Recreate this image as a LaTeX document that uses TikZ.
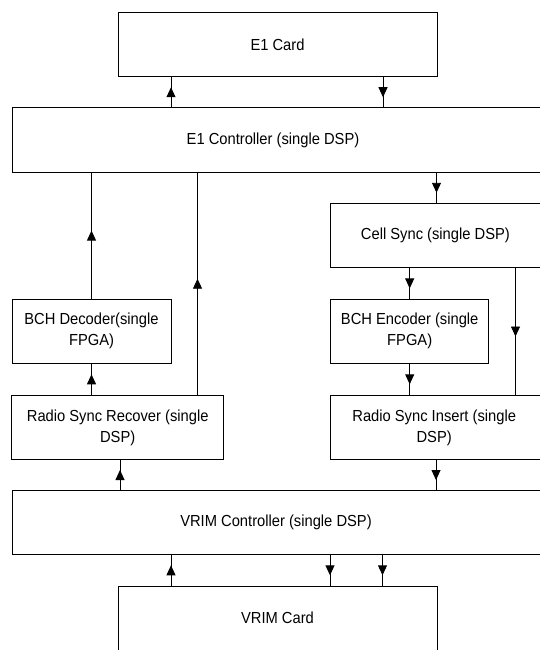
\documentclass[tikz,border=0pt]{standalone}
\usepackage{fontspec}
\setmainfont{Liberation Sans}[FakeStretch=0.92]
\usepackage{tikz}
\usetikzlibrary{arrows.meta,decorations.markings}

\newcommand\boxfont{\fontsize{16}{21}\selectfont}

\tikzset{
  block/.style={draw, line width=1pt, minimum height=64pt, inner sep=0pt,
    align=center, font=\boxfont},
  every label/.style={font=\boxfont, align=center, inner sep=0pt},
  flow/.style={line width=0.9pt, postaction={decorate},
    decoration={markings, mark=at position 0.5 with
      {\arrow[xshift=5pt]{Triangle[length=10pt,width=9pt]}}}}
}

\begin{document}
\begin{tikzpicture}[x=1pt,y=-1pt]
  \useasboundingbox (0,0) rectangle (540,650);
  \clip (0,0) rectangle (540,650);

  % cards and controllers
  \node[block, minimum width=319pt] (card1) at (277.5,44.5) {E1 Card};
  \node[block, minimum width=548pt,
        label={[xshift=-13pt]center:E1 Controller (single DSP)}] (ctrl1) at (286,140) {};
  \node[block, minimum width=548pt,
        label={[xshift=-10pt]center:VRIM Controller (single DSP)}] (ctrl2) at (286,522.6) {};
  \node[block, minimum width=319pt, minimum height=84pt,
        label={[yshift=10pt]center:VRIM Card}] (card2) at (277.5,628) {};

  % receive side
  \node[block, minimum width=159pt] (dec) at (91.5,331.2) {BCH Decoder(single\\FPGA)};
  \node[block, minimum width=211.5pt] (rsr) at (117.7,427.4) {Radio Sync Recover (single\\DSP)};

  % transmit side
  \node[block, minimum width=229.5pt,
        label={[xshift=-9.8pt]center:Cell Sync (single DSP)}] (cell) at (445.2,235.6) {};
  \node[block, minimum width=158.5pt] (enc) at (409.7,331.2) {BCH Encoder (single\\FPGA)};
  \node[block, minimum width=229.5pt,
        label={[xshift=-11pt]center:Radio Sync Insert (single\\DSP)}] (rsi) at (445.2,427.4) {};

  % E1 card <-> E1 controller
  \draw[flow] (ctrl1.north -| 171,0) -- (card1.south -| 171,0);
  \draw[flow] (card1.south -| 383,0) -- (ctrl1.north -| 383,0);

  % up the receive chain
  \draw[flow] (dec.north) -- (dec.north |- ctrl1.south);
  \draw[flow] (rsr.north -| 197.5,0) -- (ctrl1.south -| 197.5,0);
  \draw[flow] (rsr.north -| dec.south) -- (dec.south);
  \draw[flow] (ctrl2.north -| 120,0) -- (rsr.south -| 120,0);

  % down the transmit chain
  \draw[flow] (ctrl1.south -| 436.5,0) -- (cell.north -| 436.5,0);
  \draw[flow] (cell.south -| enc.north) -- (enc.north);
  \draw[flow] (enc.south) -- (enc.south |- rsi.north);
  \draw[flow] (cell.south -| 515.5,0) -- (rsi.north -| 515.5,0);
  \draw[flow] (rsi.south -| 436,0) -- (ctrl2.north -| 436,0);

  % VRIM controller <-> VRIM card
  \draw[flow] (card2.north -| 171,0) -- (ctrl2.south -| 171,0);
  \draw[flow] (ctrl2.south -| 330,0) -- (card2.north -| 330,0);
  \draw[flow] (ctrl2.south -| 382.5,0) -- (card2.north -| 382.5,0);
\end{tikzpicture}
\end{document}
